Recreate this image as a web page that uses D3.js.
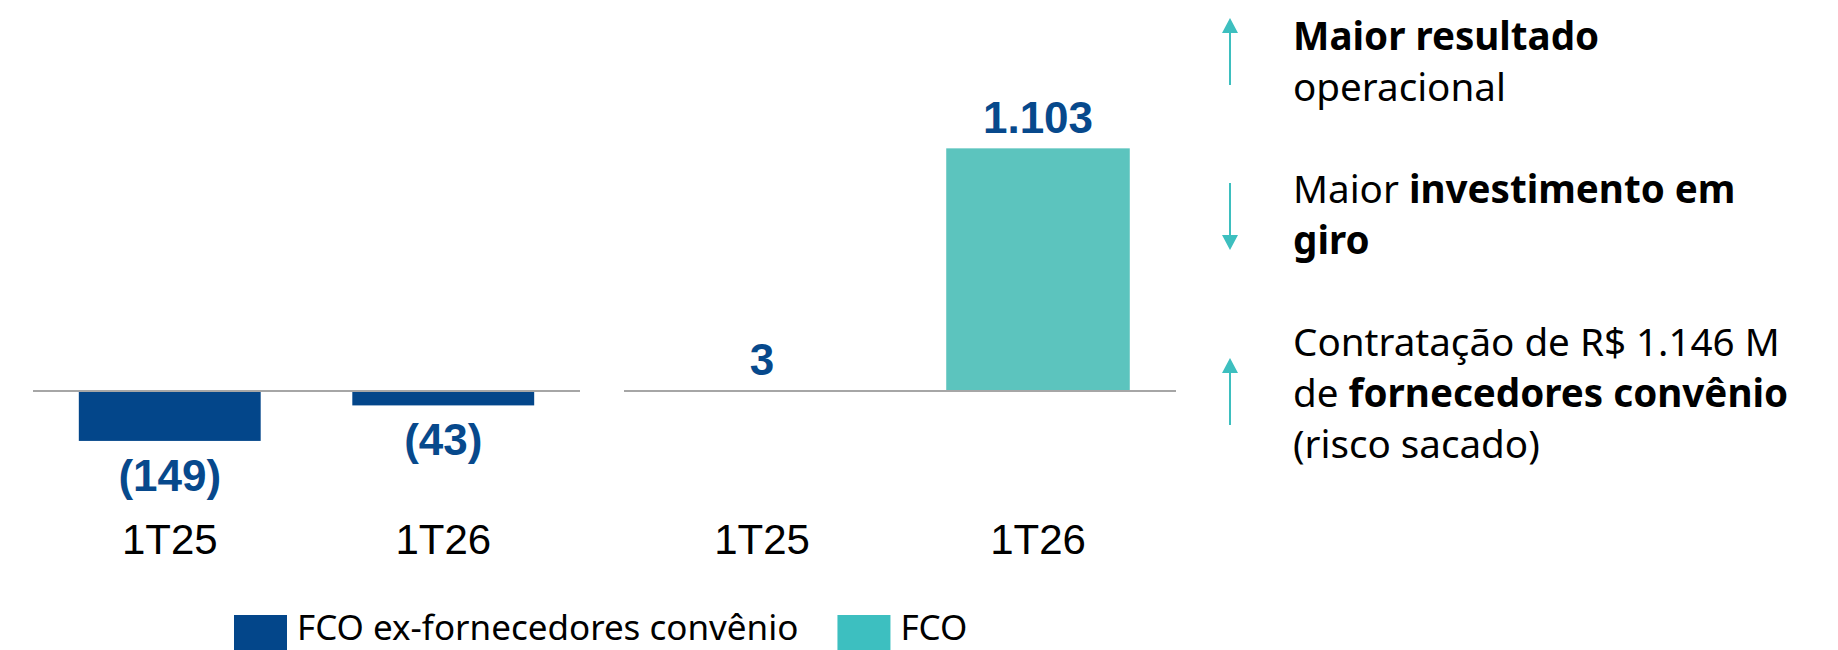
<!DOCTYPE html>
<html>
<head>
<meta charset="utf-8">
<script src="https://cdn.jsdelivr.net/npm/d3@7"></script>
<style>
  body { margin: 0; background: #fff; }
  svg { display: block; }
  text { white-space: pre; }
</style>
</head>
<body>
<div id="chart"></div>
<script>
// data
const categories = ["1T25", "1T26"];
const fcoExValues = [-149, -43];
const fcoValues = [3, 1103];
const seriesNames = ["FCO ex-fornecedores convênio", "FCO"];
const noteDirections = ["up", "down", "up"];
const noteLines = [
  [[["Maior resultado", true]], [["operacional", false]]],
  [[["Maior ", false], ["investimento em", true]], [["giro", true]]],
  [[["Contratação de R$ 1.146 M", false]], [["de ", false], ["fornecedores convênio", true]], [["(risco sacado)", false]]]
];

{
  const W = 1838, H = 650;
  const baseY = 391;
  const colors = { ex: "#03468A", fco: "#5CC4BE", legendFco: "#3DBFC0", label: "#07498C", arrow: "#3DBFBF", axis: "#A6A6A6" };
  const chartFont = "'Liberation Sans', Arial, sans-serif";
  const noteFont = "'Noto Sans', 'Open Sans', sans-serif";

  const br = d3.formatLocale({ decimal: ",", thousands: ".", grouping: [3], currency: ["R$ ", ""] });
  const fmt = br.format(",d");
  const labelOf = v => v < 0 ? `(${fmt(-v)})` : fmt(v);

  const svg = d3.select("#chart").append("svg")
    .attr("width", W).attr("height", H);

  const panels = [
    { values: fcoExValues, color: colors.ex, range: [33, 580],
      y: d3.scaleLinear().domain([-200, 0]).range([baseY + 67, baseY]) },
    { values: fcoValues, color: colors.fco, range: [624, 1176],
      y: d3.scaleLinear().domain([0, 1200]).range([baseY, baseY - 264]) }
  ];

  panels.forEach(p => {
    const x = d3.scaleBand().domain(categories).range(p.range)
      .paddingInner(0.335).paddingOuter(0.1675);
    const rows = categories.map((c, i) => ({ c, v: p.values[i] }));
    const g = svg.append("g");

    g.selectAll("rect").data(rows).enter().append("rect")
      .attr("x", d => x(d.c))
      .attr("width", x.bandwidth())
      .attr("y", d => Math.min(p.y(d.v), p.y(0)))
      .attr("height", d => Math.abs(p.y(d.v) - p.y(0)))
      .attr("fill", p.color);

    g.append("line")
      .attr("x1", p.range[0]).attr("x2", p.range[1])
      .attr("y1", p.y(0)).attr("y2", p.y(0))
      .attr("stroke", colors.axis).attr("stroke-width", 2);

    g.selectAll("text.val").data(rows).enter().append("text")
      .attr("class", "val")
      .attr("x", d => x(d.c) + x.bandwidth() / 2)
      .attr("y", d => d.v < 0 ? p.y(d.v) + 50 : p.y(d.v) - 15)
      .attr("text-anchor", "middle")
      .style("font-family", chartFont).style("font-weight", "bold").style("font-size", "44px")
      .attr("fill", colors.label)
      .text(d => labelOf(d.v));

    g.selectAll("text.cat").data(rows).enter().append("text")
      .attr("class", "cat")
      .attr("x", d => x(d.c) + x.bandwidth() / 2)
      .attr("y", 554)
      .attr("text-anchor", "middle")
      .style("font-family", chartFont).style("font-size", "42px")
      .attr("fill", "#000")
      .text(d => d.c);
  });

  // notes on the right
  const notes = svg.append("g");
  const noteX = 1293, arrowX = 1230, lineStep = 50.6, blockGap = 52;
  const arrowTops = [18, 183, 358], arrowLen = 67;
  let lineIdx = 0;
  noteLines.forEach((block, b) => {
    block.forEach(line => {
      const t = notes.append("text")
        .attr("x", noteX)
        .attr("y", 50 + lineStep * lineIdx + blockGap * b)
        .style("font-family", noteFont).style("font-size", "38.6px")
        .attr("fill", "#000");
      line.forEach(seg => {
        t.append("tspan").style("font-weight", seg[1] ? "bold" : "normal").text(seg[0]);
      });
      lineIdx++;
    });

    const top = arrowTops[b], bot = top + arrowLen, up = noteDirections[b] === "up";
    const tip = up ? top : bot, dir = up ? 1 : -1;
    notes.append("line")
      .attr("x1", arrowX).attr("x2", arrowX)
      .attr("y1", tip + dir * 10).attr("y2", up ? bot : top)
      .attr("stroke", colors.arrow).attr("stroke-width", 2);
    notes.append("path")
      .attr("d", `M${arrowX},${tip} L${arrowX - 8},${tip + dir * 15} L${arrowX + 8},${tip + dir * 15} Z`)
      .attr("fill", colors.arrow);
  });

  // legend
  const legend = svg.append("g");
  const legendColors = [colors.ex, colors.legendFco];
  let lx = 234;
  seriesNames.forEach((name, i) => {
    legend.append("rect")
      .attr("x", lx).attr("y", 615).attr("width", 53).attr("height", 53)
      .attr("fill", legendColors[i]);
    const t = legend.append("text")
      .attr("x", lx + 63).attr("y", 640)
      .style("font-family", noteFont).style("font-size", "35px")
      .attr("fill", "#000")
      .text(name);
    lx += 63 + t.node().getComputedTextLength() + 39;
  });
}
</script>
</body>
</html>
